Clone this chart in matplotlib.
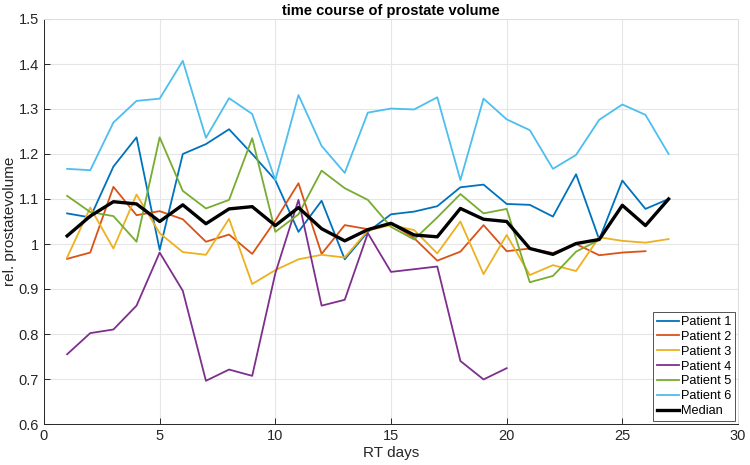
import matplotlib
matplotlib.use('Agg')
import matplotlib.pyplot as plt
from matplotlib.ticker import FuncFormatter

plt.rcParams['font.family'] = ['Liberation Sans', 'DejaVu Sans']

# relative prostate volume per RT day
days_p1 = list(range(1, 28))
p1 = [1.068, 1.059, 1.172, 1.237, 0.987, 1.200, 1.222, 1.255, 1.200, 1.142,
      1.027, 1.096, 0.966, 1.027, 1.066, 1.072, 1.084, 1.126, 1.132, 1.089,
      1.087, 1.061, 1.155, 1.010, 1.141, 1.078, 1.100]

days_p2 = list(range(1, 27))
p2 = [0.967, 0.981, 1.127, 1.064, 1.073, 1.055, 1.005, 1.021, 0.978, 1.052,
      1.135, 0.978, 1.042, 1.033, 1.046, 1.013, 0.963, 0.983, 1.042, 0.984,
      0.990, 0.980, 1.000, 0.975, 0.981, 0.984]

days_p3 = list(range(1, 28))
p3 = [0.970, 1.081, 0.990, 1.110, 1.024, 0.982, 0.976, 1.056, 0.911, 0.942,
      0.966, 0.976, 0.970, 1.030, 1.042, 1.031, 0.979, 1.050, 0.933, 1.020,
      0.931, 0.953, 0.940, 1.015, 1.007, 1.003, 1.011]

days_p4 = list(range(1, 21))
p4 = [0.755, 0.802, 0.810, 0.863, 0.981, 0.896, 0.696, 0.721, 0.707, 0.935,
      1.098, 0.863, 0.876, 1.024, 0.938, 0.944, 0.950, 0.740, 0.699, 0.724]

days_p5 = list(range(1, 25))
p5 = [1.107, 1.071, 1.062, 1.005, 1.237, 1.118, 1.079, 1.098, 1.235, 1.027,
      1.066, 1.163, 1.124, 1.098, 1.038, 1.010, 1.059, 1.111, 1.068, 1.078,
      0.915, 0.929, 0.983, 1.009]

days_p6 = list(range(1, 28))
p6 = [1.167, 1.164, 1.270, 1.318, 1.323, 1.407, 1.236, 1.324, 1.289, 1.142,
      1.331, 1.218, 1.158, 1.292, 1.301, 1.299, 1.326, 1.142, 1.323, 1.277,
      1.253, 1.167, 1.198, 1.276, 1.310, 1.287, 1.200]

days_med = list(range(1, 28))
median = [1.018, 1.062, 1.094, 1.089, 1.050, 1.087, 1.045, 1.078, 1.083, 1.041,
          1.081, 1.034, 1.007, 1.032, 1.046, 1.020, 1.016, 1.079, 1.055, 1.050,
          0.990, 0.977, 1.001, 1.010, 1.086, 1.041, 1.100]

series = [
    (days_p1, p1, 'Patient 1', '#0072BD'),
    (days_p2, p2, 'Patient 2', '#D95319'),
    (days_p3, p3, 'Patient 3', '#EDB120'),
    (days_p4, p4, 'Patient 4', '#7E2F8E'),
    (days_p5, p5, 'Patient 5', '#77AC30'),
    (days_p6, p6, 'Patient 6', '#4DBEEE'),
]

fig = plt.figure(figsize=(7.5, 4.65), dpi=100)
ax = fig.add_axes([44 / 750, 41 / 465, 694 / 750, 405 / 465])

for d, v, name, col in series:
    ax.plot(d, v, color=col, lw=1.3, label=name)
ax.plot(days_med, median, color='black', lw=2.4, label='Median')

ax.set_xlim(0, 30)
ax.set_ylim(0.6, 1.5)
ax.set_xticks(range(0, 31, 5))
ax.set_yticks([0.6 + 0.1 * i for i in range(10)])
ax.yaxis.set_major_formatter(FuncFormatter(lambda v, p: ('%.1f' % v).rstrip('0').rstrip('.')))

txt = '#262626'
ax.grid(True, color='#e6e6e6', lw=0.8)
ax.set_axisbelow(True)
ax.tick_params(direction='in', length=4, colors=txt, labelsize=10.5, width=0.7)
for s in ['left', 'bottom']:
    ax.spines[s].set_color(txt)
    ax.spines[s].set_linewidth(0.7)
for s in ['top', 'right']:
    ax.spines[s].set_color('#dddddd')
    ax.spines[s].set_linewidth(0.7)

ax.set_xlabel('RT days', fontsize=11, color=txt, labelpad=2)
ax.set_ylabel('rel. prostatevolume', fontsize=11, color=txt, labelpad=1)
ax.set_title('time course of prostate volume', fontsize=10.5, fontweight='bold',
             color='black', pad=3)

leg = ax.legend(loc='lower right', fontsize=9.2, frameon=True, fancybox=False,
                edgecolor='#262626', handlelength=1.7, handletextpad=0.15,
                labelspacing=0.22, borderpad=0.3, borderaxespad=0.25)
leg.get_frame().set_linewidth(0.7)

fig.savefig('out.png', dpi=100)
